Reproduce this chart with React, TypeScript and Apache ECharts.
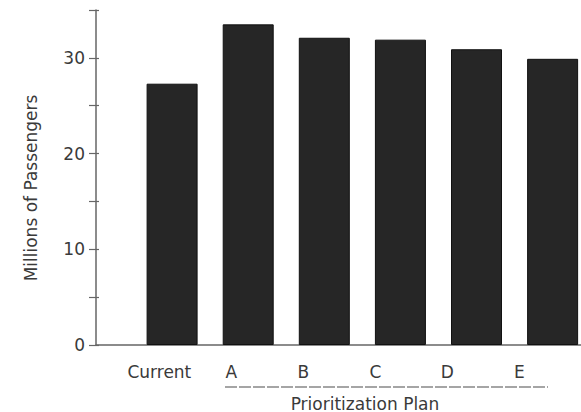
import React, { useEffect, useRef } from "react";
import * as echarts from "echarts";

const categories = ["Current", "A", "B", "C", "D", "E"];
const passengers = [27.3, 33.5, 32.1, 31.9, 30.9, 29.9];
const yTicks = [0, 10, 20, 30];
const yTitle = "Millions of Passengers";
const xTitle = "Prioritization Plan";

const FONT = "DejaVu Sans";
const TEXT = "#3a3a3a";

export default function App() {
  const ref = useRef<HTMLDivElement>(null);
  useEffect(() => {
    if (!ref.current) return;
    const chart = echarts.init(ref.current, undefined, { renderer: "svg" });
    chart.setOption({
      animation: false,
      backgroundColor: "#ffffff",
      grid: { left: 96, right: 0, top: 10, bottom: 67, containLabel: false },
      xAxis: [
        {
          type: "value",
          min: -1,
          max: 5.373,
          axisLine: { show: true, onZero: false, lineStyle: { color: "#666", width: 1.5 } },
          axisTick: { show: false },
          axisLabel: { show: false },
          splitLine: { show: false },
        },
        {
          type: "value",
          position: "bottom",
          min: -0.88,
          max: 5.856,
          axisLine: { show: false, onZero: false },
          axisTick: { show: false },
          splitLine: { show: false },
          axisLabel: {
            customValues: categories.map((_, i) => i),
            formatter: (v: number) => categories[Math.round(v)] ?? "",
            margin: 18,
            fontFamily: FONT,
            fontSize: 17,
            color: TEXT,
          },
        },
      ],
      yAxis: [
        {
          type: "value",
          min: 0,
          max: 35,
          interval: 5,
          position: "left",
          axisLine: { show: true, onZero: false, lineStyle: { color: "#666", width: 1.5 } },
          axisTick: { show: true, length: 7, lineStyle: { color: "#666", width: 1.2 } },
          splitLine: { show: false },
          axisLabel: {
            margin: 11,
            fontFamily: FONT,
            fontSize: 17,
            color: TEXT,
            formatter: (v: number) => (yTicks.includes(v) ? String(v) : ""),
          },
        },
        {
          type: "value",
          min: 0,
          max: 35,
          interval: 5,
          position: "left",
          axisLine: { show: false, onZero: false },
          axisTick: { show: true, inside: true, length: 3, lineStyle: { color: "#666", width: 1.2 } },
          axisLabel: { show: false },
          splitLine: { show: false },
        },
      ],
      series: [
        {
          type: "bar",
          xAxisIndex: 0,
          yAxisIndex: 0,
          barWidth: 51,
          data: categories.map((_, i) => [i, passengers[i]]),
          itemStyle: { color: "#262626", borderColor: "#111", borderWidth: 1 },
        },
      ],
      graphic: [
        {
          type: "text",
          x: 31,
          y: 188,
          rotation: Math.PI / 2,
          style: {
            text: yTitle,
            fontFamily: FONT,
            fontSize: 17,
            fill: TEXT,
            align: "center",
            verticalAlign: "middle",
          },
        },
        {
          type: "line",
          shape: { x1: 225, y1: 387, x2: 548, y2: 387 },
          style: { stroke: "#888", lineWidth: 1.5, lineDash: [12, 2] },
        },
        {
          type: "text",
          x: 365,
          y: 395,
          style: {
            text: xTitle,
            fontFamily: FONT,
            fontSize: 17,
            fill: TEXT,
            align: "center",
            verticalAlign: "top",
          },
        },
      ],
    });
    return () => chart.dispose();
  }, []);
  return (
    <div
      ref={ref}
      style={{ position: "absolute", left: 0, top: 0, width: 581, height: 412 }}
    />
  );
}
